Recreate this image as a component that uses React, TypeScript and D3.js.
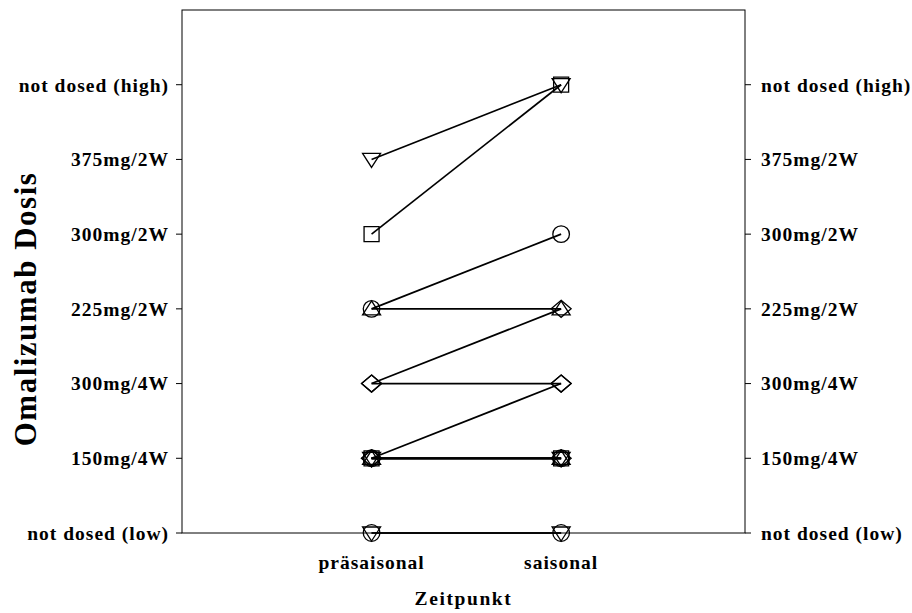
import React from "react";
import * as d3 from "d3";

const timepoints = ["präsaisonal", "saisonal"];
const doseLabels = [
  "not dosed (low)",
  "150mg/4W",
  "300mg/4W",
  "225mg/2W",
  "300mg/2W",
  "375mg/2W",
  "not dosed (high)",
];
// each patient: marker shape, dose level index at each timepoint
const patientShapes = [
  "triangleDown", "square", "circle", "triangleUp", "diamond", "diamond",
  "diamond", "circle", "triangleUp", "triangleDown", "square", "diamond",
  "circle", "triangleDown",
];
const patientPre = [5, 4, 3, 3, 2, 2, 1, 1, 1, 1, 1, 1, 0, 0];
const patientPost = [6, 6, 4, 3, 3, 2, 2, 1, 1, 1, 1, 1, 0, 0];

const W = 912, H = 613;
const left = 182, right = 745, top = 10, bottom = 533;

function markerPath(shape: string, cx: number, cy: number): string {
  const p = d3.path();
  if (shape === "circle") {
    p.moveTo(cx + 8.3, cy);
    p.arc(cx, cy, 8.3, 0, Math.PI * 2);
  } else if (shape === "square") {
    p.rect(cx - 7.5, cy - 7.5, 15, 15);
  } else if (shape === "triangleUp") {
    p.moveTo(cx, cy - 8);
    p.lineTo(cx + 9, cy + 6);
    p.lineTo(cx - 9, cy + 6);
    p.closePath();
  } else if (shape === "triangleDown") {
    p.moveTo(cx, cy + 8);
    p.lineTo(cx + 9, cy - 6);
    p.lineTo(cx - 9, cy - 6);
    p.closePath();
  } else if (shape === "diamond") {
    p.moveTo(cx, cy - 8.5);
    p.lineTo(cx + 10, cy);
    p.lineTo(cx, cy + 8.5);
    p.lineTo(cx - 10, cy);
    p.closePath();
  }
  return p.toString();
}

export default function App() {
  const x = d3.scaleLinear().domain([0, 2.97]).range([left, right]);
  const y = d3.scaleLinear().domain([0, 7]).range([bottom, top]);
  const font = "'Liberation Serif', 'Times New Roman', serif";
  const ticks = d3.range(doseLabels.length);
  const fs = 19.5;
  const ls = 1.0;

  return (
    <svg width={W} height={H} style={{ position: "absolute", left: 0, top: 0 }}>
      <rect x={0} y={0} width={W} height={H} fill="#fff" />
      <rect x={left} y={top} width={right - left} height={bottom - top} fill="none" stroke="#000" strokeWidth={1} />
      {ticks.map((t) => (
        <g key={t}>
          <line x1={left - 6} x2={left} y1={y(t)} y2={y(t)} stroke="#000" />
          <line x1={right} x2={right + 6} y1={y(t)} y2={y(t)} stroke="#000" />
          <text x={169} y={y(t)} dy="0.35em" textAnchor="end" fontFamily={font} fontWeight="bold" fontSize={fs} letterSpacing={ls}>
            {doseLabels[t]}
          </text>
          <text x={761} y={y(t)} dy="0.35em" textAnchor="start" fontFamily={font} fontWeight="bold" fontSize={fs} letterSpacing={ls}>
            {doseLabels[t]}
          </text>
        </g>
      ))}
      {timepoints.map((tp, i) => (
        <text key={tp} x={x(i + 1)} y={569} textAnchor="middle" fontFamily={font} fontWeight="bold" fontSize={fs} letterSpacing={ls}>
          {tp}
        </text>
      ))}
      <text x={(left + right) / 2} y={605} textAnchor="middle" fontFamily={font} fontWeight="bold" fontSize={fs} letterSpacing={1.6}>
        Zeitpunkt
      </text>
      <text
        transform={`translate(36, 309) rotate(-90)`}
        textAnchor="middle"
        fontFamily={font}
        fontWeight="bold"
        fontSize={31}
        letterSpacing={1.5}
      >
        Omalizumab Dosis
      </text>
      {patientShapes.map((s, i) => (
        <line
          key={"l" + i}
          x1={x(1)}
          y1={y(patientPre[i])}
          x2={x(2)}
          y2={y(patientPost[i])}
          stroke="#000"
          strokeWidth={1.7}
        />
      ))}
      {patientShapes.map((s, i) => (
        <g key={"m" + i}>
          <path d={markerPath(s, x(1), y(patientPre[i]))} fill="none" stroke="#000" strokeWidth={1.3} />
          <path d={markerPath(s, x(2), y(patientPost[i]))} fill="none" stroke="#000" strokeWidth={1.3} />
        </g>
      ))}
    </svg>
  );
}
